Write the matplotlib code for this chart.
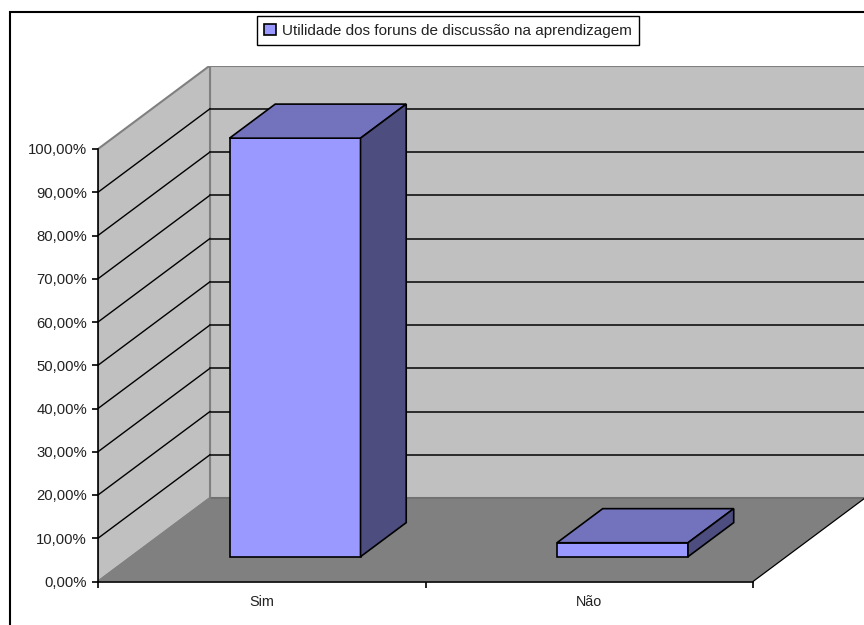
import matplotlib
matplotlib.use("Agg")
import matplotlib.pyplot as plt
from matplotlib.patches import Patch, Polygon, Rectangle

plt.rcParams["font.family"] = ["Liberation Sans", "DejaVu Sans"]

categories = ["Sim", "Não"]
values = [96.77, 3.23]
series_name = "Utilidade dos foruns de discussão na aprendizagem"
y_ticks = [0, 10, 20, 30, 40, 50, 60, 70, 80, 90, 100]

W, H = 864, 625
x0_px, x2_px = 98.0, 753.0
y0_px, y100_px = 581.5, 149.0
depth_x_px, depth_y_px = 112.0, 83.5

cat_px = (x2_px - x0_px) / len(categories)
val_px = (y0_px - y100_px) / 100
depth_x = depth_x_px / cat_px
depth_y = depth_y_px / val_px
top_y = 100 + depth_y

fig = plt.figure(figsize=(W / 100, H / 100), dpi=100)
ax = fig.add_axes([x0_px / W, 1 - y0_px / H, (W - x0_px) / W, (y0_px - y100_px + depth_y_px) / H])
ax.set_xlim(0, (W - x0_px) / cat_px)
ax.set_ylim(0, top_y)
ax.patch.set_visible(False)

# chart border, runs off the right and bottom of the picture
fig.add_artist(Rectangle((10 / W, -0.05), 1.1, 1 - 12 / H + 0.05, transform=fig.transFigure,
                         fill=False, ec="black", lw=1.5))


def proj(x, y, z):
    return (x + z * depth_x, y + z * depth_y)


right = ax.get_xlim()[1] + 0.1
wall = "#C0C0C0"
floor = "#808080"

# back wall, side wall, floor
ax.add_patch(Polygon([(depth_x, depth_y), (right, depth_y), (right, top_y), (depth_x, top_y)],
                     fc=wall, ec=floor, lw=1.5, zorder=1))
ax.add_patch(Polygon([proj(0, 0, 0), proj(0, 0, 1), proj(0, 100, 1), proj(0, 100, 0)],
                     fc=wall, ec=floor, lw=1.5, zorder=1))
ax.add_patch(Polygon([proj(0, 0, 0), proj(2, 0, 0), proj(2, 0, 1), proj(0, 0, 1)],
                     fc=floor, ec="none", zorder=2))
ax.plot(*zip(proj(0, 0, 1), (right, depth_y)), color="#6E6E6E", lw=1.2, zorder=2)
ax.plot(*zip(proj(2, 0, 0), proj(2, 0, 1)), color="black", lw=0.9, zorder=3)
ax.plot(*zip(proj(0, 0, 0), proj(0, 0, 1)), color=floor, lw=1.2, zorder=3)

# gridlines
for v in y_ticks[1:-1]:
    ax.plot(*zip(proj(0, v, 0), proj(0, v, 1)), color="black", lw=1.0, zorder=3)
    ax.plot([depth_x, right], [v + depth_y, v + depth_y], color="#111111", lw=1.2, zorder=3)

# bars
bar_w = 0.4
z_front, z_back = 0.297, 0.705
for i, v in enumerate(values):
    a = i + (1 - bar_w) / 2
    b = a + bar_w
    style = dict(ec="black", lw=1.2, joinstyle="miter", zorder=4)
    ax.add_patch(Polygon([proj(a, 0, z_front), proj(b, 0, z_front), proj(b, v, z_front), proj(a, v, z_front)],
                         fc="#9999FF", **style))
    ax.add_patch(Polygon([proj(a, v, z_front), proj(b, v, z_front), proj(b, v, z_back), proj(a, v, z_back)],
                         fc="#7373BD", **style))
    ax.add_patch(Polygon([proj(b, 0, z_front), proj(b, 0, z_back), proj(b, v, z_back), proj(b, v, z_front)],
                         fc="#4D4D80", **style))

# axes
for s in ["top", "right"]:
    ax.spines[s].set_visible(False)
ax.spines["left"].set_bounds(0, 100)
ax.spines["bottom"].set_bounds(0, 2)
ax.spines["left"].set_linewidth(1.2)
ax.spines["bottom"].set_linewidth(1.2)
ax.spines["left"].set_zorder(5)
ax.spines["bottom"].set_zorder(5)

ax.set_yticks(y_ticks)
ax.set_yticklabels([f"{v:.2f}%".replace(".", ",") for v in y_ticks], fontsize=10.7, color="#222222")
ax.tick_params(axis="y", length=4, width=1.2, pad=4)
ax.set_xticks(range(len(categories) + 1))
ax.set_xticklabels([])
ax.set_xticks([i + 0.5 for i in range(len(categories))], minor=True)
ax.set_xticklabels(categories, minor=True, fontsize=10.4, color="#222222")
ax.tick_params(axis="x", which="major", length=4.5, width=1.2)
ax.tick_params(axis="x", which="minor", length=0, pad=10)

handle = Patch(fc="#9999FF", ec="black", lw=1.2, label=series_name)
fig.legend(handles=[handle], loc="center", bbox_to_anchor=(448 / W, 1 - 30.5 / H), fontsize=11,
           fancybox=False, framealpha=1, edgecolor="black", handlelength=0.75, handleheight=0.75,
           handletextpad=0.4, borderpad=0.5, borderaxespad=0, labelcolor="#222222")

fig.savefig("out.png", dpi=100)
